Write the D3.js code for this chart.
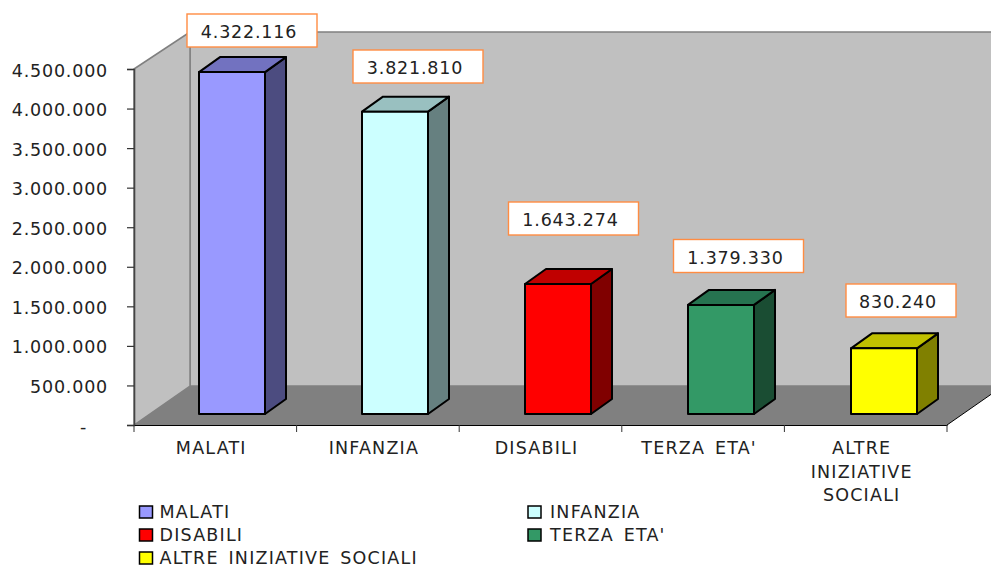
<!DOCTYPE html>
<html>
<head>
<meta charset="utf-8">
<script src="https://cdn.jsdelivr.net/npm/d3@7"></script>
<style>
  html, body { margin: 0; padding: 0; background: #fff; overflow: hidden; }
  text { font-family: "DejaVu Sans", Verdana, sans-serif; fill: #222; font-size: 17.5px; letter-spacing: 1.2px; word-spacing: 3px; }
  .number text, text.number { letter-spacing: 0.8px; }
</style>
</head>
<body>
<div id="chart"></div>
<script>
const categories = ['MALATI', 'INFANZIA', 'DISABILI', "TERZA ETA'", 'ALTRE INIZIATIVE SOCIALI'];
const values = [4322116, 3821810, 1643274, 1379330, 830240];
const valueLabels = ['4.322.116', '3.821.810', '1.643.274', '1.379.330', '830.240'];
const frontColors = ['#9999ff', '#ccffff', '#ff0000', '#339966', '#ffff00'];
const topColors = ['#7272c0', '#99c0c0', '#c00000', '#267350', '#c0c000'];
const sideColors = ['#4c4c80', '#668080', '#800000', '#1a4d33', '#808000'];
const yTicks = [0, 500000, 1000000, 1500000, 2000000, 2500000, 3000000, 3500000, 4000000, 4500000];
const catLines = [['MALATI'], ['INFANZIA'], ['DISABILI'], ["TERZA ETA'"], ['ALTRE', 'INIZIATIVE', 'SOCIALI']];

const width = 991, height = 565;
const plot = {left: 134, right: 947, top: 69, bottom: 425};
const depth = {x: 56, y: 39};        // floor offset of the 3d box
const wallTop = 32;
const barDepth = {x: 21, y: 15};     // offset of each bar's side
const barWidth = 66;
const barLift = 11;                  // bars stand a bit behind the front of the floor

// The value boxes were dragged by hand in the original, so each has its own spot
const boxLeft = [187, 353, 508.5, 673.5, 846];
const boxTop = [14, 50, 202, 239.5, 284];
const boxWidth = [130, 130, 130, 130, 110];
const boxHeight = 33;

const xscale = d3.scaleBand().domain(categories).range([plot.left, plot.right]);
const barscale = d3.scalePoint().domain(categories).range([199, 851]);
const yscale = d3.scaleLinear().domain([0, 4500000]).range([plot.bottom, plot.top]);

const fmt = d => d === 0 ? '-' : d3.format(',')(d).replace(/,/g, '.');
const pts = a => a.map(p => p.join(',')).join(' ');

const svg = d3.select('#chart').append('svg')
  .attr('width', width)
  .attr('height', height)
  .style('display', 'block');

// Back wall, side wall, floor
const backX = plot.left + depth.x;
const backY = plot.bottom - depth.y;
svg.append('polygon')
  .attr('points', pts([[backX, wallTop], [1010, wallTop], [1010, backY], [backX, backY]]))
  .attr('fill', '#c0c0c0').attr('stroke', '#808080').attr('stroke-width', 1.5);
svg.append('polygon')
  .attr('points', pts([[plot.left, plot.top], [backX, wallTop], [backX, backY], [plot.left, plot.bottom]]))
  .attr('fill', '#c0c0c0').attr('stroke', '#808080').attr('stroke-width', 1.5);
svg.append('polygon')
  .attr('points', pts([[plot.left, plot.bottom], [plot.right, plot.bottom],
    [plot.right + depth.x, backY], [backX, backY]]))
  .attr('fill', '#808080');
svg.append('line')
  .attr('x1', plot.right).attr('y1', plot.bottom)
  .attr('x2', plot.right + depth.x).attr('y2', backY)
  .attr('stroke', '#000').attr('stroke-width', 1);

// Bars, each one a front, a top and a side
const barX = d => barscale(d);
const barTop = i => yscale(values[i]) - barLift;
const barBase = yscale(0) - barLift;

const bars = svg.selectAll('.bar')
  .data(categories)
  .enter()
  .append('g')
  .attr('class', 'bar')
  .attr('stroke', '#000')
  .attr('stroke-width', 2)
  .attr('stroke-linejoin', 'round');

bars.append('polygon')
  .attr('points', (d, i) => pts([[barX(d) + barWidth, barTop(i)],
    [barX(d) + barWidth + barDepth.x, barTop(i) - barDepth.y],
    [barX(d) + barWidth + barDepth.x, barBase - barDepth.y],
    [barX(d) + barWidth, barBase]]))
  .attr('fill', (d, i) => sideColors[i]);
bars.append('polygon')
  .attr('points', (d, i) => pts([[barX(d), barTop(i)],
    [barX(d) + barDepth.x, barTop(i) - barDepth.y],
    [barX(d) + barWidth + barDepth.x, barTop(i) - barDepth.y],
    [barX(d) + barWidth, barTop(i)]]))
  .attr('fill', (d, i) => topColors[i]);
bars.append('rect')
  .attr('x', d => barX(d))
  .attr('y', (d, i) => barTop(i))
  .attr('width', barWidth)
  .attr('height', (d, i) => barBase - barTop(i))
  .attr('fill', (d, i) => frontColors[i]);

// Value boxes
const boxes = svg.selectAll('.value-box')
  .data(categories)
  .enter()
  .append('g')
  .attr('class', 'value-box number')
  .attr('transform', (d, i) => `translate(${boxLeft[i]}, ${boxTop[i]})`);
boxes.append('rect')
  .attr('width', (d, i) => boxWidth[i])
  .attr('height', boxHeight)
  .attr('fill', '#fff')
  .attr('stroke', '#ff8c42')
  .attr('stroke-width', 1.4);
boxes.append('text')
  .attr('x', (d, i) => boxWidth[i] / 2 - 3)
  .attr('y', 24)
  .attr('text-anchor', 'middle')
  .text((d, i) => valueLabels[i]);

// Axes
const yaxis = d3.axisLeft(yscale).tickValues(yTicks).tickFormat(fmt).tickSize(7);
const gy = svg.append('g')
  .attr('class', 'number')
  .attr('transform', `translate(${plot.left}, 0)`)
  .call(yaxis);
// the zero label sits further left because of the accounting number format
gy.selectAll('text')
  .attr('x', d => d === 0 ? -47 : -26)
  .attr('dy', '0.4em')
  .attr('font-size', null);
gy.selectAll('.tick line').attr('stroke', '#333').attr('stroke-width', 1.2);
gy.select('.domain').attr('stroke', '#444').attr('stroke-width', 1.6);

const xaxis = d3.axisBottom(xscale).tickFormat('').tickSize(0);
const gx = svg.append('g')
  .attr('transform', `translate(0, ${plot.bottom})`)
  .call(xaxis);
gx.selectAll('line, path').attr('stroke', '#000').attr('stroke-width', 1.2);
gx.selectAll('.edge')
  .data(categories.map(d => xscale(d)).concat(plot.right))
  .enter()
  .append('line')
  .attr('class', 'edge')
  .attr('x1', d => d).attr('x2', d => d)
  .attr('y1', 0).attr('y2', 7)
  .attr('stroke', '#333').attr('stroke-width', 1);

// Category labels, the last one wraps over three lines
svg.selectAll('.cat')
  .data(categories)
  .enter()
  .append('text')
  .attr('class', 'cat')
  .attr('text-anchor', 'middle')
  .each(function (d, i) {
    d3.select(this).selectAll('tspan')
      .data(catLines[i])
      .enter()
      .append('tspan')
      .attr('x', xscale(d) + xscale.bandwidth() / 2 - 4)
      .attr('y', (l, j) => 454 + j * 23.5)
      .text(l => l);
  });

// Legend, two columns
const legendX = [139.5, 528];
const legendGap = [20, 22];
const legend = svg.selectAll('.legend')
  .data(categories)
  .enter()
  .append('g')
  .attr('class', 'legend')
  .attr('transform', (d, i) => `translate(${legendX[i % 2]}, ${512 + Math.floor(i / 2) * 23})`);
legend.append('rect')
  .attr('x', 0).attr('y', -6)
  .attr('width', 13).attr('height', 12)
  .attr('fill', (d, i) => frontColors[i])
  .attr('stroke', '#000').attr('stroke-width', 1.5);
legend.append('text')
  .attr('x', (d, i) => legendGap[i % 2]).attr('y', 6)
  .text(d => d);
</script>
</body>
</html>
